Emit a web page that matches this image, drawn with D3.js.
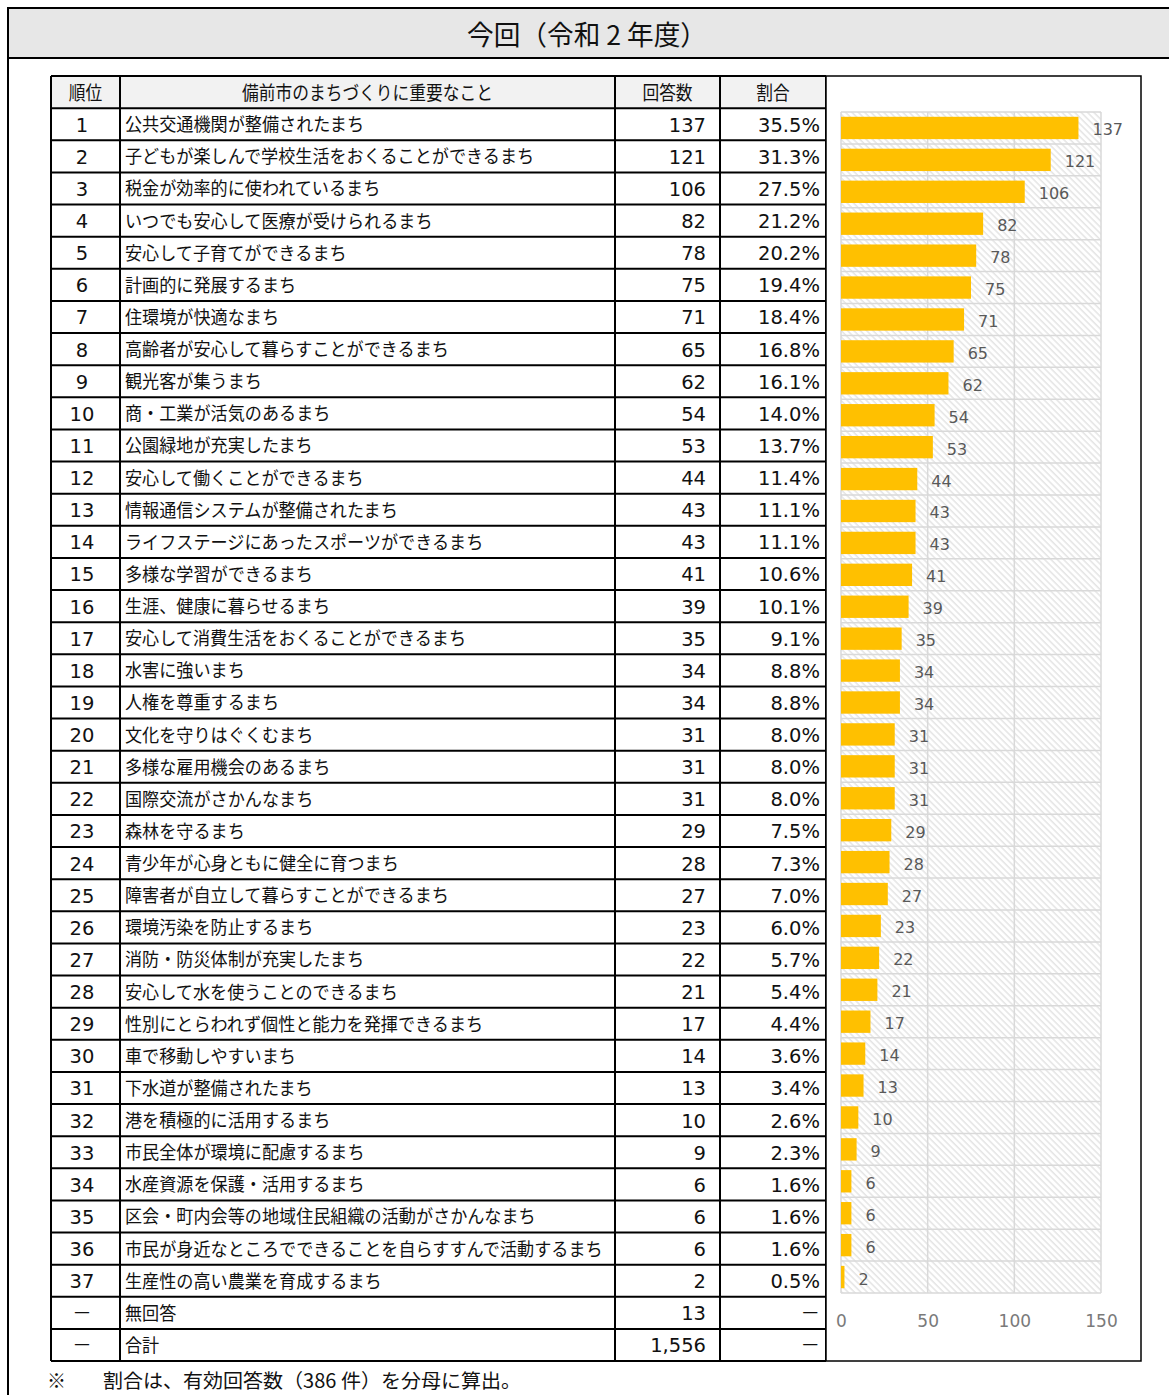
<!DOCTYPE html>
<html>
<head>
<meta charset="utf-8">
<script src="https://cdn.jsdelivr.net/npm/d3@7"></script>
<style>
body { margin: 0; background: #fff; }
svg { display: block; }
</style>
</head>
<body>
<svg id="chart"></svg>
<script>
// ---- data ----
const title = "今回（令和 2 年度）";
const headers = ["順位", "備前市のまちづくりに重要なこと", "回答数", "割合"];
const ranks = ["1","2","3","4","5","6","7","8","9","10","11","12","13","14","15","16","17","18","19","20",
    "21","22","23","24","25","26","27","28","29","30","31","32","33","34","35","36","37"];
const items = [
    "公共交通機関が整備されたまち",
    "子どもが楽しんで学校生活をおくることができるまち",
    "税金が効率的に使われているまち",
    "いつでも安心して医療が受けられるまち",
    "安心して子育てができるまち",
    "計画的に発展するまち",
    "住環境が快適なまち",
    "高齢者が安心して暮らすことができるまち",
    "観光客が集うまち",
    "商・工業が活気のあるまち",
    "公園緑地が充実したまち",
    "安心して働くことができるまち",
    "情報通信システムが整備されたまち",
    "ライフステージにあったスポーツができるまち",
    "多様な学習ができるまち",
    "生涯、健康に暮らせるまち",
    "安心して消費生活をおくることができるまち",
    "水害に強いまち",
    "人権を尊重するまち",
    "文化を守りはぐくむまち",
    "多様な雇用機会のあるまち",
    "国際交流がさかんなまち",
    "森林を守るまち",
    "青少年が心身ともに健全に育つまち",
    "障害者が自立して暮らすことができるまち",
    "環境汚染を防止するまち",
    "消防・防災体制が充実したまち",
    "安心して水を使うことのできるまち",
    "性別にとらわれず個性と能力を発揮できるまち",
    "車で移動しやすいまち",
    "下水道が整備されたまち",
    "港を積極的に活用するまち",
    "市民全体が環境に配慮するまち",
    "水産資源を保護・活用するまち",
    "区会・町内会等の地域住民組織の活動がさかんなまち",
    "市民が身近なところでできることを自らすすんで活動するまち",
    "生産性の高い農業を育成するまち"
];
const counts = [137,121,106,82,78,75,71,65,62,54,53,44,43,43,41,39,35,34,34,31,
    31,31,29,28,27,23,22,21,17,14,13,10,9,6,6,6,2];
const percents = ["35.5%","31.3%","27.5%","21.2%","20.2%","19.4%","18.4%","16.8%","16.1%","14.0%",
    "13.7%","11.4%","11.1%","11.1%","10.6%","10.1%","9.1%","8.8%","8.8%","8.0%",
    "8.0%","8.0%","7.5%","7.3%","7.0%","6.0%","5.7%","5.4%","4.4%","3.6%",
    "3.4%","2.6%","2.3%","1.6%","1.6%","1.6%","0.5%"];
const footRanks = ["－", "－"];
const footItems = ["無回答", "合計"];
const footCounts = ["13", "1,556"];
const footPercents = ["－", "－"];
const xTicks = [0, 50, 100, 150];
const noteMark = "※";
const note = "割合は、有効回答数（386 件）を分母に算出。";

// ---- layout ----
const W = 1169, H = 1395;
const jp = "'Noto Sans CJK JP', sans-serif";
const num = "'DejaVu Sans', 'Noto Sans CJK JP', sans-serif";

const svg = d3.select("#chart").attr("width", W).attr("height", H);

// squeeze CJK text horizontally (source font is narrow)
function squeeze(sel, k) {
    sel.each(function() {
        let w = this.getComputedTextLength();
        d3.select(this).attr("textLength", w * k).attr("lengthAdjust", "spacingAndGlyphs");
    });
}

// hatch pattern for the plot background
let defs = svg.append("defs");
defs.append("pattern")
    .attr("id", "hatch")
    .attr("patternUnits", "userSpaceOnUse")
    .attr("width", 4.5).attr("height", 4.5)
    .attr("patternTransform", "rotate(-45)")
    .append("line")
    .attr("x1", 1).attr("y1", 0).attr("x2", 1).attr("y2", 4.5)
    .attr("stroke", "#e2e2e2").attr("stroke-width", 1.4);

// outer frame + title band
svg.append("rect")
    .attr("x", 8).attr("y", 8).attr("width", W + 10).attr("height", H + 10)
    .attr("fill", "none").attr("stroke", "#000").attr("stroke-width", 2);
svg.append("rect")
    .attr("x", 8).attr("y", 8).attr("width", W + 10).attr("height", 50)
    .attr("fill", "#e7e7e7").attr("stroke", "#000").attr("stroke-width", 2);
svg.append("text")
    .attr("x", 587).attr("y", 33)
    .attr("text-anchor", "middle").attr("dominant-baseline", "central")
    .style("font-family", jp).style("font-size", "27px").attr("fill", "#111")
    .text(title)
    .attr("textLength", 240).attr("lengthAdjust", "spacingAndGlyphs");

// ---- table ----
const colEdges = [51, 120, 615, 720, 826];
let rowData = ranks.map((r, i) => [r, items[i], String(counts[i]), percents[i]]);
footRanks.forEach((r, i) => rowData.push([r, footItems[i], footCounts[i], footPercents[i]]));

let rowScale = d3.scaleBand()
    .domain(d3.range(rowData.length + 1))
    .range([76, 1361]);

let table = svg.append("g");

// header fill
table.append("rect")
    .attr("x", colEdges[0]).attr("y", rowScale(0))
    .attr("width", colEdges[4] - colEdges[0]).attr("height", rowScale.bandwidth())
    .attr("fill", "#f2f2f2");

// header text
table.selectAll(".head")
    .data(headers)
    .enter().append("text")
    .attr("class", "head")
    .attr("x", (d, i) => (colEdges[i] + colEdges[i + 1]) / 2)
    .attr("y", rowScale(0) + rowScale.bandwidth() / 2 - 1)
    .attr("text-anchor", "middle").attr("dominant-baseline", "central")
    .style("font-family", jp).style("font-size", "19px").attr("fill", "#111")
    .text(d => d)
    .call(squeeze, 0.88);

let rows = table.selectAll(".row")
    .data(rowData)
    .enter().append("g")
    .attr("class", "row")
    .attr("transform", (d, i) => "translate(0," + (rowScale(i + 1) + rowScale.bandwidth() / 2) + ")");

rows.append("text")
    .attr("x", 82).attr("y", 1).attr("text-anchor", "middle").attr("dominant-baseline", "central")
    .style("font-family", num).style("font-size", "19.5px").attr("fill", "#111")
    .text(d => d[0]);

rows.append("text")
    .attr("x", 125).attr("y", -1).attr("text-anchor", "start").attr("dominant-baseline", "central")
    .style("font-family", jp).style("font-size", "18.5px").attr("fill", "#111")
    .text(d => d[1])
    .call(squeeze, 0.925);

rows.append("text")
    .attr("x", 706).attr("y", 1).attr("text-anchor", "end").attr("dominant-baseline", "central")
    .style("font-family", num).style("font-size", "19.5px").attr("fill", "#111")
    .text(d => d[2]);

rows.append("text")
    .attr("x", 820).attr("y", 1).attr("text-anchor", "end").attr("dominant-baseline", "central")
    .style("font-family", num).style("font-size", "19.5px").attr("fill", "#111")
    .text(d => d[3]);

// grid lines of table
table.selectAll(".hline")
    .data(d3.range(rowData.length + 2))
    .enter().append("line")
    .attr("x1", colEdges[0]).attr("x2", colEdges[4])
    .attr("y1", i => i <= rowData.length ? rowScale(i) : rowScale(rowData.length) + rowScale.bandwidth())
    .attr("y2", i => i <= rowData.length ? rowScale(i) : rowScale(rowData.length) + rowScale.bandwidth())
    .attr("stroke", "#000").attr("stroke-width", 2);

table.selectAll(".vline")
    .data(colEdges)
    .enter().append("line")
    .attr("x1", d => d).attr("x2", d => d)
    .attr("y1", rowScale(0)).attr("y2", 1361)
    .attr("stroke", "#000").attr("stroke-width", 2);

// ---- bar chart ----
svg.append("rect")
    .attr("x", 826).attr("y", 76).attr("width", 315).attr("height", 1285)
    .attr("fill", "#fff").attr("stroke", "#000").attr("stroke-width", 1.5);

let xScale = d3.scaleLinear()
    .domain([0, 150])
    .range([841, 1101]);

let yCell = d3.scaleBand()
    .domain(items)
    .range([112, 1293]);

let yBar = d3.scaleBand()
    .domain(items)
    .range([112, 1293])
    .paddingInner(0.3)
    .paddingOuter(0.15);

let plot = svg.append("g");

plot.append("rect")
    .attr("x", xScale(0)).attr("y", yCell.range()[0])
    .attr("width", xScale(150) - xScale(0))
    .attr("height", yCell.range()[1] - yCell.range()[0])
    .attr("fill", "url(#hatch)");

// horizontal cell lines
plot.selectAll(".hgrid")
    .data(items.concat([null]))
    .enter().append("line")
    .attr("x1", xScale(0)).attr("x2", xScale(150))
    .attr("y1", d => d === null ? yCell.range()[1] : yCell(d))
    .attr("y2", d => d === null ? yCell.range()[1] : yCell(d))
    .attr("stroke", "#d9d9d9").attr("stroke-width", 1.5);

// vertical grid
plot.selectAll(".vgrid")
    .data(xTicks)
    .enter().append("line")
    .attr("x1", d => xScale(d)).attr("x2", d => xScale(d))
    .attr("y1", yCell.range()[0]).attr("y2", yCell.range()[1])
    .attr("stroke", "#d9d9d9").attr("stroke-width", 1.5);

plot.selectAll(".bar")
    .data(counts)
    .enter().append("rect")
    .attr("class", "bar")
    .attr("x", xScale(0))
    .attr("y", (d, i) => yBar(items[i]))
    .attr("width", d => xScale(d) - xScale(0))
    .attr("height", yBar.bandwidth())
    .attr("fill", "#ffc000");

plot.selectAll(".label")
    .data(counts)
    .enter().append("text")
    .attr("class", "label")
    .attr("x", d => xScale(d) + 14)
    .attr("y", (d, i) => yCell(items[i]) + yCell.bandwidth() / 2 + 2)
    .attr("dominant-baseline", "central")
    .style("font-family", num).style("font-size", "16px").attr("fill", "#595959")
    .text(d => d);

// x axis (labels only)
let xAxis = d3.axisBottom(xScale)
    .tickValues(xTicks)
    .tickSize(0)
    .tickPadding(0);

let axisG = svg.append("g")
    .attr("transform", "translate(0,1315)")
    .call(xAxis);
axisG.select(".domain").remove();
axisG.selectAll("text")
    .style("font-family", num).style("font-size", "17px").attr("fill", "#7a7a7a");

// ---- footnote ----
svg.append("text")
    .attr("x", 47).attr("y", 1379).attr("dominant-baseline", "central")
    .style("font-family", jp).style("font-size", "19px").attr("fill", "#111")
    .text(noteMark);
svg.append("text")
    .attr("x", 103).attr("y", 1379).attr("dominant-baseline", "central")
    .style("font-family", jp).style("font-size", "19.5px").attr("fill", "#111")
    .text(note)
    .attr("textLength", 418).attr("lengthAdjust", "spacingAndGlyphs");
</script>
</body>
</html>
